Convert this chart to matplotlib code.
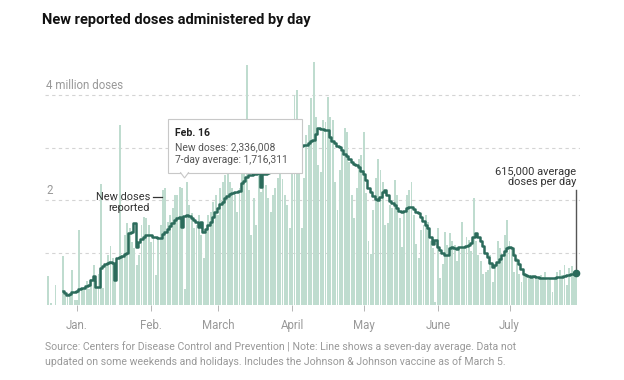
import matplotlib
matplotlib.use("Agg")
import matplotlib.pyplot as plt
import matplotlib.dates as mdates
import matplotlib.transforms as mtransforms
from matplotlib.patches import Rectangle, Polygon
import pandas as pd

plt.rcParams['font.family'] = ['Roboto', 'DejaVu Sans']

# daily new doses reported, millions (Dec 20, 2020 .. Jul 29, 2021)
dec_doses = [0.55, 0.03, 0.0, 0.38, 0.0, 0.0, 0.93, 0.20, 0.15, 0.20, 0.67, 0.10]
jan_doses = [0.10, 1.43, 0.30, 0.35, 0.45, 0.30, 0.50, 0.76, 0.45, 0.60, 2.30, 0.32,
             0.76, 0.95, 1.13, 0.90, 0.75, 0.00, 3.43, 0.95, 1.33, 1.56, 1.46, 1.20,
             1.08, 0.76, 0.95, 1.52, 1.68, 1.65, 1.52]
feb_doses = [1.20, 1.33, 0.57, 1.27, 1.52, 2.19, 2.22, 1.59, 1.71, 1.84, 2.10, 2.10,
             2.25, 2.22, 0.30, 2.336, 1.90, 1.75, 1.46, 1.52, 1.71, 1.33, 0.89, 1.40,
             1.71, 1.78, 1.97, 2.10]
mar_doses = [1.71, 2.22, 2.35, 2.48, 2.54, 2.35, 2.22, 2.10, 1.78, 2.22, 2.54, 2.79,
             4.57, 2.20, 1.33, 2.03, 1.52, 2.54, 2.16, 2.22, 2.29, 2.03, 1.78, 2.10,
             2.22, 2.41, 2.50, 2.40, 2.10, 1.90, 1.46]
apr_doses = [2.60, 4.00, 4.10, 2.86, 1.46, 2.41, 3.24, 3.43, 3.94, 4.62, 3.59, 2.67,
             2.54, 3.52, 3.49, 3.97, 3.59, 3.52, 2.35, 1.81, 2.57, 2.92, 3.37, 3.30,
             2.73, 2.10, 1.65, 2.22, 2.79, 2.86]
may_doses = [3.30, 2.13, 1.21, 0.98, 1.81, 2.41, 2.79, 2.57, 2.35, 1.52, 1.56, 1.90,
             1.84, 2.38, 2.10, 1.65, 1.11, 1.78, 2.10, 2.19, 2.35, 1.71, 1.17, 0.89,
             1.43, 1.52, 1.71, 1.59, 1.21, 1.08, 0.05]
jun_doses = [1.46, 0.51, 0.79, 1.40, 1.14, 1.37, 1.21, 1.14, 0.83, 1.08, 1.59, 1.08,
             1.30, 1.24, 1.02, 2.03, 1.21, 0.95, 0.83, 0.60, 0.63, 0.67, 0.95, 0.44,
             0.70, 1.21, 1.08, 0.89, 1.33, 1.62]
jul_doses = [1.21, 1.05, 0.63, 0.89, 0.60, 0.44, 0.57, 0.57, 0.54, 0.57, 0.51, 0.54,
             0.50, 0.57, 0.54, 0.63, 0.48, 0.51, 0.24, 0.54, 0.63, 0.67, 0.57, 0.76,
             0.38, 0.70, 0.75, 0.63, 0.60]

# seven-day average, millions (Dec 26, 2020 .. Jul 29, 2021)
dec_avg = [0.27, 0.22, 0.20, 0.21, 0.24, 0.25]
jan_avg = [0.26, 0.30, 0.32, 0.33, 0.36, 0.38, 0.48, 0.55, 0.35, 0.34, 0.70, 0.74,
           0.78, 0.80, 0.81, 0.80, 0.48, 0.90, 0.92, 0.93, 0.97, 1.00, 1.38, 1.40,
           1.56, 1.11, 1.20, 1.25, 1.29, 1.33, 1.34]
feb_avg = [1.33, 1.30, 1.29, 1.27, 1.28, 1.36, 1.40, 1.45, 1.50, 1.57, 1.62, 1.66,
           1.68, 1.49, 1.70, 1.716, 1.69, 1.65, 1.62, 1.58, 1.48, 1.58, 1.40, 1.45,
           1.52, 1.58, 1.68, 1.78]
mar_avg = [1.85, 1.92, 1.97, 2.03, 2.08, 2.12, 2.14, 2.15, 2.16, 2.17, 2.32, 2.36,
           2.44, 2.47, 2.48, 2.50, 2.50, 2.51, 2.25, 2.50, 2.50, 2.52, 2.53, 2.55,
           2.56, 2.60, 2.64, 2.67, 2.72, 2.76, 2.79]
apr_avg = [2.88, 2.95, 2.98, 3.00, 3.02, 3.04, 3.05, 3.08, 3.12, 3.14, 3.25, 3.37,
           3.35, 3.35, 3.33, 3.33, 3.20, 3.12, 3.08, 3.02, 3.01, 2.95, 2.88, 2.83,
           2.78, 2.72, 2.69, 2.67, 2.62, 2.56]
may_avg = [2.50, 2.38, 2.22, 2.15, 2.08, 2.02, 2.00, 2.05, 2.15, 2.19, 2.10, 1.98,
           1.95, 1.90, 1.84, 1.80, 1.78, 1.80, 1.84, 1.87, 1.86, 1.82, 1.78, 1.75,
           1.68, 1.60, 1.52, 1.46, 1.30, 1.17, 1.24]
jun_avg = [1.10, 1.05, 1.00, 0.96, 0.95, 1.08, 1.11, 1.08, 1.06, 1.10, 1.11, 1.10,
           1.12, 1.14, 1.18, 1.30, 1.37, 1.30, 1.21, 1.12, 1.00, 0.92, 0.80, 0.73,
           0.76, 0.82, 0.88, 0.95, 1.02, 1.08]
jul_avg = [1.11, 1.08, 0.95, 0.86, 0.78, 0.68, 0.60, 0.57, 0.55, 0.54, 0.56, 0.54,
           0.53, 0.52, 0.52, 0.51, 0.51, 0.51, 0.51, 0.52, 0.53, 0.54, 0.54, 0.56,
           0.57, 0.58, 0.59, 0.60, 0.615]

month_starts = ["2021-01-01", "2021-02-01", "2021-03-01", "2021-04-01",
                "2021-05-01", "2021-06-01", "2021-07-01"]
month_labels = ["Jan.", "Feb.", "March", "April", "May", "June", "July"]

new_doses = dec_doses + jan_doses + feb_doses + mar_doses + apr_doses + may_doses + jun_doses + jul_doses
avg = dec_avg + jan_avg + feb_avg + mar_avg + apr_avg + may_avg + jun_avg + jul_avg
bar_dates = pd.date_range("2020-12-20", periods=len(new_doses), freq="D")
avg_dates = pd.date_range("2020-12-26", periods=len(avg), freq="D")

BAR = "#bfdccf"
LINE = "#2b6b5b"
GRAY = "#999999"

fig = plt.figure(figsize=(6.24, 3.8), dpi=100)
ax = fig.add_axes([45 / 624, 75 / 380, 535 / 624, 246.75 / 380])

ax.bar(bar_dates, new_doses, width=0.8, color=BAR, linewidth=0, zorder=2)
ax.plot(avg_dates, avg, drawstyle="steps-mid", color=LINE, lw=1.8, zorder=4)

jan1 = mdates.date2num(pd.Timestamp("2021-01-01"))
ax.set_xlim(jan1 - 13.4, jan1 + 210.5)
ax.set_ylim(0, 4.7)

for v in [1, 2, 3, 4]:
    ax.axhline(v, color="#d4d4d4", lw=0.8, ls=(0, (3, 3)), zorder=1)

blend = mtransforms.blended_transform_factory(ax.transAxes, ax.transData)
ax.text(0.002, 4.06, "4 million doses", transform=blend, color=GRAY, fontsize=8.3, va="bottom")
ax.text(0.002, 2.06, "2", transform=blend, color=GRAY, fontsize=8.3, va="bottom")

for s in ax.spines.values():
    s.set_visible(False)
ax.set_yticks([])
ax.set_xticks(pd.to_datetime(month_starts))
ax.set_xticklabels(month_labels)
ax.tick_params(axis="x", length=4, width=0.6, color="#aaaaaa", labelcolor=GRAY,
               labelsize=8.3, pad=6)

# "New doses reported" label
label_x = jan1 + 30.5
ax.text(label_x, 2.06, "New doses", ha="right", va="center", fontsize=7.9, color="#333333", zorder=6)
ax.text(label_x, 1.85, "reported", ha="right", va="center", fontsize=7.9, color="#333333", zorder=6)
ax.plot([label_x + 1.3, label_x + 5.0], [2.06, 2.06], color="#333333", lw=0.9, zorder=6)

# tooltip for Feb. 16
tip = jan1 + 45.0
box_l, box_r = jan1 + 37.9, jan1 + 94.0
box_b, box_t = 2.52, 3.54
ax.add_patch(Rectangle((box_l + 0.5, box_b - 0.03), box_r - box_l, box_t - box_b,
                       facecolor="#e6e6e6", edgecolor="none", zorder=7))
ax.add_patch(Rectangle((box_l, box_b), box_r - box_l, box_t - box_b,
                       facecolor="white", edgecolor="#c8c8c8", lw=0.8, zorder=8))
ax.add_patch(Polygon([(tip - 1.8, box_b + 0.01), (tip, box_b - 0.1), (tip + 1.8, box_b + 0.01)],
                     closed=False, facecolor="white", edgecolor="#c8c8c8", lw=0.8, zorder=9))
ax.text(jan1 + 41.0, 3.28, "Feb. 16", fontsize=7.6, fontweight="bold", color="#222222",
        va="center", zorder=10)
ax.text(jan1 + 41.0, 3.01, "New doses: 2,336,008", fontsize=7.4, color="#555555",
        va="center", zorder=10)
ax.text(jan1 + 41.0, 2.76, "7-day average: 1,716,311", fontsize=7.4, color="#555555",
        va="center", zorder=10)

# end annotation
last = avg_dates[-1]
ax.plot([last, last], [avg[-1], 2.19], color="#555555", lw=1.0, zorder=5)
ax.plot([last], [avg[-1]], "o", ms=4.5, color=LINE, zorder=6)
ax.text(last, 2.24, "615,000 average\ndoses per day", ha="right", va="bottom",
        fontsize=7.9, color="#333333", linespacing=1.05, zorder=6)

fig.text(42 / 624, 1 - 20 / 380, "New reported doses administered by day",
         fontsize=10.5, fontweight="bold", color="#121212", va="center")
fig.text(45 / 624, 1 - 347 / 380,
         "Source: Centers for Disease Control and Prevention | Note: Line shows a seven-day average. Data not",
         fontsize=7.6, color=GRAY, va="center")
fig.text(45 / 624, 1 - 362 / 380,
         "updated on some weekends and holidays. Includes the Johnson & Johnson vaccine as of March 5.",
         fontsize=7.6, color=GRAY, va="center")

fig.savefig("out.png", dpi=100)
